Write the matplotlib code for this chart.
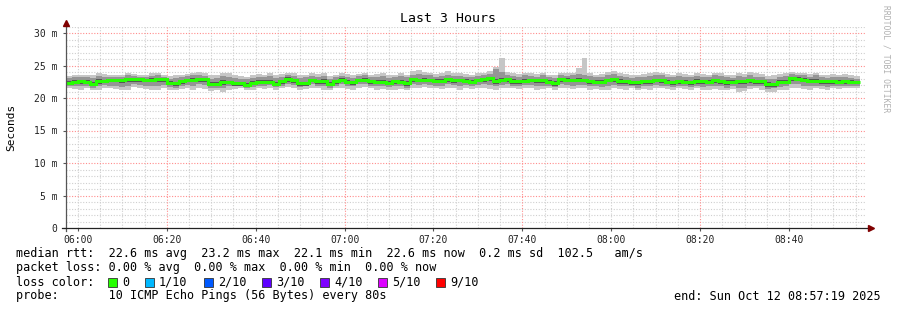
import matplotlib
matplotlib.use("Agg")
import matplotlib.pyplot as plt
import numpy as np
from matplotlib.lines import Line2D
from matplotlib.patches import Rectangle

# ---- data (ms), one value per 80 s step, graph starts at 05:57:19 ----
median = [22.3, 22.5, 22.6, 22.5, 22.2, 22.6, 22.6, 22.8, 22.8, 22.7,
          22.9, 22.9, 22.85, 22.8, 22.8, 22.9, 22.9, 22.3, 22.25, 22.6,
          22.8, 22.8, 22.85, 22.85, 22.2, 22.2, 22.4, 22.4, 22.25, 22.25,
          22.0, 22.3, 22.5, 22.5, 22.5, 22.2, 22.6, 22.9, 22.7, 22.25,
          22.25, 22.8, 22.6, 22.6, 22.1, 22.6, 22.8, 22.5, 22.4, 22.8,
          22.8, 22.6, 22.5, 22.5, 22.3, 22.6, 22.5, 22.3, 22.85, 22.8,
          22.8, 22.75, 22.65, 22.65, 22.9, 22.7, 22.8, 22.65, 22.5, 22.8,
          22.9, 23.1, 22.6, 22.8, 22.9, 22.65, 22.65, 22.65, 22.75, 22.75,
          22.75, 22.5, 22.35, 22.85, 22.8, 22.8, 22.8, 22.8, 22.6, 22.5,
          22.5, 22.8, 22.9, 22.6, 22.6, 22.4, 22.4, 22.55, 22.55, 22.8,
          22.75, 22.5, 22.4, 22.6, 22.5, 22.4, 22.6, 22.6, 22.5, 22.7,
          22.6, 22.45, 22.45, 22.6, 22.55, 22.75, 22.55, 22.6, 22.1, 22.1,
          22.5, 22.5, 23.1, 23.0, 22.8, 22.65, 22.65, 22.55, 22.55, 22.6,
          22.5, 22.55, 22.45, 22.45]

outer_hi = [23.4, 23.5, 23.6, 23.5, 23.6, 23.8, 23.7, 23.6, 23.5, 23.6,
            23.9, 23.7, 23.5, 23.6, 23.8, 23.9, 23.6, 23.4, 23.5, 23.6,
            23.7, 23.9, 24.0, 23.8, 23.5, 23.6, 23.9, 23.8, 23.5, 23.4,
            23.3, 23.5, 23.7, 23.6, 23.8, 23.5, 23.7, 23.9, 23.8, 23.5,
            23.6, 23.8, 23.7, 23.9, 23.4, 23.6, 23.8, 23.7, 23.5, 23.7,
            23.9, 23.6, 23.7, 23.8, 23.5, 23.6, 23.8, 23.6, 24.2, 24.3,
            24.0, 23.9, 23.7, 23.8, 24.1, 23.9, 23.8, 23.7, 23.6, 23.8,
            23.9, 24.2, 24.7, 26.1, 24.0, 23.8, 23.7, 23.9, 23.8, 23.7,
            23.9, 23.6, 23.5, 23.9, 23.8, 23.9, 24.6, 26.1, 23.8, 23.6,
            23.7, 24.0, 24.1, 23.8, 23.7, 23.5, 23.6, 23.7, 23.8, 24.0,
            23.9, 23.7, 23.6, 23.8, 23.7, 23.6, 23.8, 23.7, 23.6, 23.9,
            23.8, 23.6, 23.5, 23.8, 23.7, 24.0, 23.8, 23.7, 23.4, 23.5,
            23.7, 23.8, 24.0, 23.9, 23.8, 23.7, 23.9, 23.6, 23.5, 23.7,
            23.6, 23.7, 23.5, 23.4]

outer_lo = [21.6, 21.4, 21.3, 21.5, 21.2, 21.3, 21.6, 21.5, 21.4, 21.2,
            21.3, 21.7, 21.5, 21.4, 21.2, 21.3, 21.5, 21.3, 21.2, 21.4,
            21.5, 21.3, 21.6, 21.4, 21.1, 21.2, 21.0, 21.3, 21.4, 21.5,
            21.2, 21.3, 21.5, 21.4, 21.6, 21.3, 21.5, 21.7, 21.6, 21.3,
            21.4, 21.6, 21.5, 21.3, 21.2, 21.5, 21.6, 21.4, 21.3, 21.6,
            21.7, 21.5, 21.3, 21.4, 21.2, 21.3, 21.4, 21.2, 21.6, 21.5,
            21.7, 21.6, 21.5, 21.4, 21.6, 21.5, 21.3, 21.6, 21.4, 21.5,
            21.6, 21.4, 21.3, 21.5, 21.6, 21.5, 21.4, 21.6, 21.5, 21.3,
            21.4, 21.5, 21.3, 21.6, 21.5, 21.4, 21.6, 21.5, 21.3, 21.4,
            21.2, 21.3, 21.5, 21.4, 21.3, 21.5, 21.2, 21.4, 21.3, 21.6,
            21.5, 21.4, 21.3, 21.5, 21.4, 21.3, 21.5, 21.2, 21.3, 21.4,
            21.3, 21.2, 21.4, 21.0, 21.1, 21.4, 21.5, 21.3, 20.9, 21.0,
            21.2, 21.3, 21.5, 21.6, 21.4, 21.3, 21.5, 21.4, 21.3, 21.5,
            21.4, 21.5, 21.6, 21.5]

mid_hi = [23.1, 23.2, 23.3, 23.2, 23.1, 23.4, 23.3, 23.3, 23.2, 23.3,
          23.5, 23.4, 23.3, 23.3, 23.4, 23.5, 23.3, 23.0, 23.1, 23.3,
          23.4, 23.5, 23.6, 23.4, 23.0, 23.1, 23.4, 23.3, 23.1, 23.0,
          22.9, 23.1, 23.3, 23.2, 23.4, 23.1, 23.3, 23.5, 23.4, 23.1,
          23.2, 23.4, 23.3, 23.4, 23.0, 23.2, 23.4, 23.3, 23.1, 23.4,
          23.5, 23.3, 23.3, 23.4, 23.1, 23.2, 23.4, 23.2, 23.6, 23.7,
          23.5, 23.5, 23.3, 23.4, 23.6, 23.4, 23.4, 23.3, 23.2, 23.4,
          23.5, 23.7, 24.5, 24.0, 23.6, 23.4, 23.3, 23.5, 23.4, 23.3,
          23.5, 23.2, 23.1, 23.5, 23.4, 23.5, 23.7, 23.6, 23.4, 23.2,
          23.3, 23.6, 23.7, 23.4, 23.3, 23.1, 23.2, 23.3, 23.4, 23.6,
          23.5, 23.3, 23.2, 23.4, 23.3, 23.2, 23.4, 23.3, 23.2, 23.5,
          23.4, 23.2, 23.1, 23.4, 23.3, 23.6, 23.3, 23.3, 23.0, 23.0,
          23.3, 23.4, 23.7, 23.6, 23.5, 23.3, 23.5, 23.2, 23.1, 23.3,
          23.2, 23.3, 23.1, 23.0]

mid_lo = [21.9, 21.8, 21.8, 21.9, 21.6, 21.8, 22.0, 21.9, 21.9, 21.7,
          21.9, 22.1, 22.0, 21.9, 21.8, 21.9, 22.0, 21.7, 21.6, 21.8,
          22.0, 21.9, 22.1, 22.0, 21.6, 21.6, 21.5, 21.8, 21.8, 21.9,
          21.5, 21.7, 21.9, 21.8, 22.0, 21.7, 21.9, 22.2, 22.0, 21.7,
          21.8, 22.1, 21.9, 21.8, 21.6, 21.9, 22.1, 21.9, 21.8, 22.1,
          22.1, 21.9, 21.8, 21.9, 21.7, 21.8, 21.8, 21.6, 22.1, 22.0,
          22.1, 22.0, 21.9, 21.9, 22.1, 22.0, 21.9, 22.0, 21.8, 22.0,
          22.1, 22.0, 21.8, 22.0, 22.1, 21.9, 21.9, 22.0, 22.0, 21.8,
          21.9, 21.9, 21.7, 22.1, 22.0, 21.9, 22.0, 22.0, 21.8, 21.8,
          21.7, 21.9, 22.0, 21.9, 21.8, 21.8, 21.6, 21.8, 21.8, 22.0,
          21.9, 21.8, 21.7, 21.9, 21.8, 21.7, 21.9, 21.7, 21.8, 21.9,
          21.8, 21.6, 21.8, 21.5, 21.6, 21.9, 21.9, 21.8, 21.4, 21.5,
          21.7, 21.8, 22.1, 22.1, 21.9, 21.8, 21.9, 21.8, 21.7, 21.9,
          21.8, 21.9, 21.9, 21.8]

inner_hi = [22.6, 22.7, 22.8, 22.8, 22.5, 22.9, 22.8, 23.0, 23.0, 22.9,
            23.1, 23.1, 23.0, 23.0, 23.1, 23.1, 23.1, 22.6, 22.5, 22.8,
            23.0, 23.1, 23.1, 23.0, 22.5, 22.5, 22.7, 22.6, 22.5, 22.5,
            22.3, 22.6, 22.8, 22.7, 22.8, 22.5, 22.8, 23.2, 22.9, 22.5,
            22.5, 23.0, 22.8, 22.9, 22.4, 22.8, 23.1, 22.7, 22.6, 23.0,
            23.1, 22.8, 22.7, 22.8, 22.6, 22.8, 22.7, 22.6, 23.1, 23.0,
            23.1, 23.0, 22.9, 22.9, 23.1, 23.0, 23.0, 22.9, 22.7, 23.0,
            23.1, 23.3, 22.9, 23.1, 23.1, 22.9, 22.8, 22.9, 23.0, 22.9,
            23.0, 22.8, 22.6, 23.1, 23.1, 23.0, 23.1, 23.0, 22.8, 22.7,
            22.7, 23.0, 23.1, 22.9, 22.8, 22.6, 22.6, 22.8, 22.8, 23.0,
            23.0, 22.7, 22.6, 22.8, 22.7, 22.6, 22.9, 22.8, 22.7, 22.9,
            22.8, 22.7, 22.7, 22.8, 22.8, 23.0, 22.8, 22.8, 22.4, 22.3,
            22.7, 22.8, 23.3, 23.2, 23.1, 22.9, 22.9, 22.8, 22.7, 22.8,
            22.7, 22.8, 22.7, 22.6]

inner_lo = [22.0, 22.1, 22.2, 22.2, 21.9, 22.2, 22.3, 22.4, 22.4, 22.3,
            22.5, 22.5, 22.5, 22.4, 22.4, 22.5, 22.5, 22.0, 21.9, 22.2,
            22.4, 22.4, 22.5, 22.4, 21.9, 21.8, 22.0, 22.1, 21.9, 21.9,
            21.7, 22.0, 22.1, 22.1, 22.2, 21.9, 22.2, 22.5, 22.3, 21.9,
            21.9, 22.4, 22.2, 22.2, 21.8, 22.2, 22.4, 22.1, 22.0, 22.4,
            22.4, 22.2, 22.1, 22.2, 22.0, 22.2, 22.1, 21.9, 22.4, 22.4,
            22.4, 22.4, 22.3, 22.3, 22.5, 22.3, 22.4, 22.3, 22.1, 22.4,
            22.5, 22.6, 22.2, 22.4, 22.5, 22.2, 22.2, 22.3, 22.4, 22.3,
            22.3, 22.1, 21.9, 22.4, 22.4, 22.4, 22.4, 22.4, 22.2, 22.1,
            22.1, 22.4, 22.5, 22.2, 22.2, 22.0, 22.0, 22.2, 22.1, 22.4,
            22.3, 22.1, 22.0, 22.2, 22.1, 22.0, 22.2, 22.2, 22.1, 22.3,
            22.2, 22.0, 22.1, 22.1, 22.1, 22.3, 22.2, 22.2, 21.7, 21.7,
            22.1, 22.1, 22.6, 22.6, 22.4, 22.3, 22.3, 22.2, 22.2, 22.2,
            22.1, 22.2, 22.1, 22.1]

tick_labels = ["06:00", "06:20", "06:40", "07:00", "07:20", "07:40",
               "08:00", "08:20", "08:40"]
y_labels = ["0", "5 m", "10 m", "15 m", "20 m", "25 m", "30 m"]
loss_labels = ["0", "1/10", "2/10", "3/10", "4/10", "5/10", "9/10"]
loss_colors = ["#26ff00", "#00b8ff", "#0059ff", "#5e00ff", "#7e00ff",
               "#dd00ff", "#ff0000"]

W, H = 897, 310
mono = "DejaVu Sans Mono"

def fx(px):
    return px / W

def fy(py):
    return 1 - py / H

fig = plt.figure(figsize=(W / 100, H / 100), dpi=100)
fig.patch.set_facecolor("white")

# plot area in pixels: x 66..866, y 26.5..228
ax = fig.add_axes([fx(66), fy(228), 800 / W, 201.5 / H])
ax.set_facecolor("white")

start = -(2 + 41 / 60)          # 05:57:19, minutes from 06:00
step = 80 / 60
edges = start + np.arange(len(median) + 1) * step

ax.set_xlim(start, start + 180)
ax.set_ylim(0, 31)

# grid (rrdtool style dotted): minor every 5 min / 1 ms, major every 40 min / 5 ms
major_x = range(20, 180, 40)
for m in range(0, 180, 5):
    if m not in major_x:
        ax.axvline(m, color="#cfcfcf", lw=0.8, ls=(0, (1, 1.5)), zorder=0)
for v in range(1, 32):
    if v % 5:
        ax.axhline(v, color="#cfcfcf", lw=0.8, ls=(0, (1, 1.5)), zorder=0)
for m in major_x:
    ax.axvline(m, color="#ff8c8c", lw=0.8, ls=(0, (1, 1.5)), zorder=0.5)
for v in range(5, 31, 5):
    ax.axhline(v, color="#ff8c8c", lw=0.8, ls=(0, (1, 1.5)), zorder=0.5)

# smoke
ax.stairs(outer_hi, edges, baseline=outer_lo, fill=True, color="#c6c6c6", zorder=2)
ax.stairs(mid_hi, edges, baseline=mid_lo, fill=True, color="#959595", zorder=3)
ax.stairs(inner_hi, edges, baseline=inner_lo, fill=True, color="#555555", zorder=4)
# median rtt, coloured by loss
ax.stairs(median, edges, baseline=None, color=loss_colors[0], lw=2.2, zorder=5)

ax.set_xticks(range(0, 180, 20))
ax.set_xticklabels(tick_labels, family=mono, fontsize=7, color="#222222")
ax.set_yticks(range(0, 31, 5))
ax.set_yticklabels(y_labels, family=mono, fontsize=7, color="#222222")
ax.tick_params(axis="x", length=2, pad=3, color="#555555")
ax.tick_params(axis="y", length=2, pad=4, color="#555555")
for s in ax.spines.values():
    s.set_visible(False)

# axis lines with arrows
fig.add_artist(Line2D([fx(66), fx(66)], [fy(231), fy(24)], color="#555555", lw=0.9))
fig.add_artist(Line2D([fx(62), fx(870)], [fy(228), fy(228)], color="#222222", lw=0.9))
fig.add_artist(Line2D([fx(66)], [fy(22.5)], marker="^", ms=4, color="#800000", lw=0))
fig.add_artist(Line2D([fx(871)], [fy(228)], marker=">", ms=4, color="#800000", lw=0))

fig.text(fx(448), fy(19), "Last 3 Hours", family=mono, fontsize=9.5,
         ha="center", va="center")
fig.text(fx(11), fy(127), "Seconds", family=mono, fontsize=8,
         rotation=90, ha="center", va="center")
fig.text(fx(886), fy(59), "RRDTOOL / TOBI OETIKER", family=mono, fontsize=5.8,
         rotation=270, ha="center", va="center", color="#b0b0b0")

# legend block
fs = 8.5
fig.text(fx(16), fy(254), "median rtt:  22.6 ms avg  23.2 ms max  22.1 ms min  "
         "22.6 ms now  0.2 ms sd  102.5   am/s", family=mono, fontsize=fs, va="center")
fig.text(fx(16), fy(268), "packet loss: 0.00 % avg  0.00 % max  0.00 % min  "
         "0.00 % now", family=mono, fontsize=fs, va="center")
fig.text(fx(16), fy(282), "loss color:", family=mono, fontsize=fs, va="center")
box_x = [108, 145, 204, 262, 320, 378, 436]
for bx, lab, col in zip(box_x, loss_labels, loss_colors):
    fig.add_artist(Rectangle((fx(bx), fy(286.5)), 8.5 / W, 8.5 / H, facecolor=col,
                             edgecolor="#333333", lw=0.6))
    fig.text(fx(bx + 14), fy(282), lab, family=mono, fontsize=fs, va="center")
fig.text(fx(16), fy(296), "probe:       10 ICMP Echo Pings (56 Bytes) every 80s",
         family=mono, fontsize=fs, va="center")
fig.text(fx(881), fy(296), "end: Sun Oct 12 08:57:19 2025", family=mono,
         fontsize=fs, va="center", ha="right")

fig.savefig("out.png", dpi=100)
